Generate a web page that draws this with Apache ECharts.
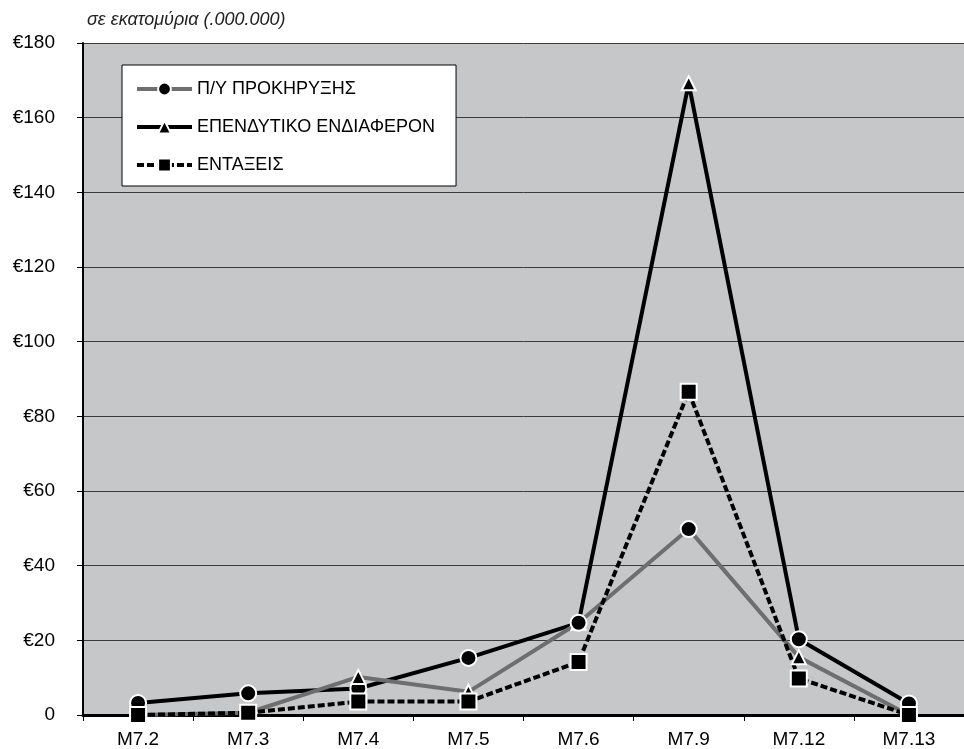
<!DOCTYPE html>
<html>
<head>
<meta charset="utf-8">
<script src="https://cdn.jsdelivr.net/npm/echarts@6/dist/echarts.min.js"></script>
<style>
  html, body { margin: 0; padding: 0; background: #ffffff; }
  #chart { width: 964px; height: 749px; }
</style>
</head>
<body>
<div id="chart"></div>
<script>
// Measures (categories on the x axis)
const categories = ['M7.2', 'M7.3', 'M7.4', 'M7.5', 'M7.6', 'M7.9', 'M7.12', 'M7.13'];

// Values in millions of euro
const prokiryxi = [0, 0.6, 10.2, 6.2, 24.7, 49.8, 15.5, 0];        // grey line
const ependytiko = [3.2, 5.8, 7.1, 15.3, 24.7, 169.2, 20.3, 3.1];  // black line
const entaxeis = [0, 0.6, 3.6, 3.6, 14.2, 86.6, 9.8, 0];           // dashed line

// Marker shape drawn at each point of the grey and the black line
const prokiryxiMarkers = ['triangle', 'triangle', 'triangle', 'triangle', 'circle', 'circle', 'triangle', 'triangle'];
const ependytikoMarkers = ['circle', 'circle', 'circle', 'circle', 'triangle', 'triangle', 'circle', 'circle'];

// Y axis tick labels
const yTicks = [0, 20, 40, 60, 80, 100, 120, 140, 160, 180];

const seriesNames = ['Π/Υ ΠΡΟΚΗΡΥΞΗΣ', 'ΕΠΕΝΔΥΤΙΚΟ ΕΝΔΙΑΦΕΡΟΝ', 'ΕΝΤΑΞΕΙΣ'];

const FONT = 'Liberation Sans, Arial, sans-serif';

function markerSize(shape) {
  return shape === 'circle' ? 16 : 14;
}

function withMarkers(values, shapes) {
  return values.map((v, i) => ({
    value: v,
    symbol: shapes[i],
    symbolSize: markerSize(shapes[i])
  }));
}

const chart = echarts.init(document.getElementById('chart'), null, { renderer: 'canvas' });

chart.setOption({
  animation: false,
  backgroundColor: '#ffffff',
  title: {
    text: 'σε εκατομύρια (.000.000)',
    left: 87,
    top: 11,
    padding: 0,
    textStyle: { fontFamily: FONT, fontSize: 18, fontStyle: 'italic', fontWeight: 'normal', color: '#222' }
  },
  grid: {
    left: 83,
    top: 43,
    width: 891,
    height: 672,
    show: true,
    backgroundColor: '#c6c7c9',
    borderWidth: 0
  },
  legend: {
    data: seriesNames,
    orient: 'vertical',
    left: 122,
    top: 65,
    backgroundColor: '#ffffff',
    borderColor: '#000000',
    borderWidth: 1,
    padding: [15, 21, 12, 13],
    itemWidth: 55,
    itemHeight: 16,
    itemGap: 20,
    lineStyle: { width: 4 },
    textStyle: { fontFamily: FONT, fontSize: 18, color: '#000' }
  },
  xAxis: {
    type: 'category',
    data: categories,
    boundaryGap: true,
    axisLine: { lineStyle: { color: '#000', width: 3 } },
    axisTick: { show: true, length: 6, inside: false, lineStyle: { color: '#000', width: 1 } },
    axisLabel: { fontFamily: FONT, fontSize: 19, color: '#000', margin: 15 },
    splitLine: { show: false }
  },
  yAxis: {
    type: 'value',
    min: yTicks[0],
    max: yTicks[yTicks.length - 1],
    interval: yTicks[1] - yTicks[0],
    axisLine: { show: true, lineStyle: { color: '#000', width: 2 } },
    axisTick: { show: true, length: 6, lineStyle: { color: '#000', width: 1 } },
    axisLabel: {
      fontFamily: FONT, fontSize: 19, color: '#000', margin: 28,
      formatter: v => (v === 0 ? '0' : '€' + v)
    },
    splitLine: { show: true, lineStyle: { color: '#3a3a3a', width: 1 } }
  },
  series: [
    {
      name: seriesNames[1],
      type: 'line',
      data: withMarkers(ependytiko, ependytikoMarkers),
      symbol: 'triangle',
      symbolSize: 14,
      showAllSymbol: true,
      lineStyle: { color: '#000000', width: 4 },
      itemStyle: { color: '#000000', borderColor: '#ffffff', borderWidth: 2 }
    },
    {
      name: seriesNames[0],
      type: 'line',
      data: withMarkers(prokiryxi, prokiryxiMarkers),
      symbol: 'circle',
      symbolSize: 15,
      showAllSymbol: true,
      lineStyle: { color: '#6e6e6e', width: 4 },
      itemStyle: { color: '#000000', borderColor: '#ffffff', borderWidth: 2 }
    },
    {
      name: seriesNames[2],
      type: 'line',
      data: entaxeis,
      symbol: 'rect',
      symbolSize: 16,
      showAllSymbol: true,
      lineStyle: { color: '#000000', width: 4, type: [7, 3] },
      itemStyle: { color: '#000000', borderColor: '#ffffff', borderWidth: 2 }
    }
  ]
});
</script>
</body>
</html>
